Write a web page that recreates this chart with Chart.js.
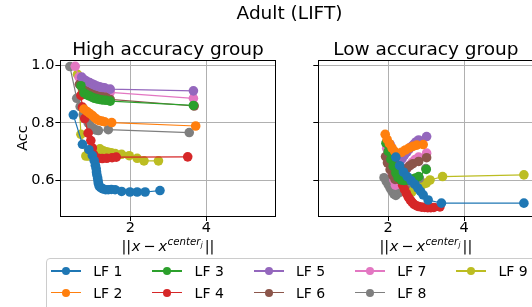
<!DOCTYPE html>
<html>
<head>
<meta charset="utf-8">
<script src="https://cdn.jsdelivr.net/npm/chart.js@4.4.0/dist/chart.umd.min.js"></script>
<style>
html, body { margin: 0; padding: 0; width: 532px; height: 307px; overflow: hidden; background: #fff; font-family: "DejaVu Sans", sans-serif; }
canvas { position: absolute; top: 0; }
#left { left: 0; }
#right { left: 300px; }
#suptitle { position: absolute; left: 189.5px; width: 200px; top: 2.5px; text-align: center; font-size: 18.5px; line-height: 20px; color: #000; }
#legendBox { position: absolute; left: 45.5px; top: 258px; width: 520px; height: 56px; border: 1px solid #cccccc; border-radius: 4px; background: rgba(255,255,255,0.8); }
.lg { position: absolute; }
.lgText { position: absolute; font-size: 14px; line-height: 16px; color: #000; white-space: nowrap; }
</style>
</head>
<body>
<canvas id="left" width="300" height="260"></canvas>
<canvas id="right" width="240" height="260"></canvas>
<div id="suptitle">Adult (LIFT)</div>
<div id="legendBox"></div>
<div id="legendItems"></div>
<script>
const lfLabels = ['LF 1', 'LF 2', 'LF 3', 'LF 4', 'LF 5', 'LF 6', 'LF 7', 'LF 8', 'LF 9'];
const lfColors = ['#1f77b4', '#ff7f0e', '#2ca02c', '#d62728', '#9467bd', '#8c564b', '#e377c2', '#7f7f7f', '#bcbd22'];
const xTicks = [2, 4];
const yTicks = [0.6, 0.8, 1.0];

// High accuracy group: [distance, acc]
const high1 = [[0.50,0.828],[0.74,0.725],[0.91,0.706],[1.00,0.686],[1.05,0.668],[1.08,0.652],[1.10,0.640],[1.11,0.628],[1.12,0.618],[1.14,0.607],[1.15,0.597],[1.16,0.588],[1.18,0.579],[1.22,0.573],[1.28,0.569],[1.35,0.566],[1.42,0.566],[1.50,0.567],[1.60,0.566],[1.77,0.560],[1.99,0.558],[2.18,0.558],[2.39,0.558],[2.78,0.563]];
const high2 = [[0.78,0.848],[0.86,0.840],[0.93,0.833],[1.00,0.826],[1.06,0.818],[1.12,0.812],[1.18,0.808],[1.25,0.806],[1.32,0.804],[1.51,0.801],[3.72,0.789]];
const high3 = [[0.70,0.930],[0.78,0.905],[0.86,0.898],[0.93,0.894],[1.00,0.889],[1.06,0.886],[1.12,0.884],[1.19,0.882],[1.27,0.880],[1.36,0.879],[1.47,0.876],[3.66,0.861]];
const high4 = [[0.70,0.896],[0.74,0.855],[0.80,0.815],[0.89,0.764],[0.96,0.738],[1.00,0.712],[1.03,0.690],[1.08,0.678],[1.16,0.676],[1.26,0.675],[1.38,0.676],[1.52,0.678],[1.63,0.680],[3.51,0.681]];
const high5 = [[0.72,0.960],[0.80,0.950],[0.86,0.945],[0.93,0.941],[1.00,0.936],[1.06,0.932],[1.12,0.929],[1.19,0.926],[1.26,0.924],[1.32,0.923],[1.47,0.918],[3.66,0.912]];
const high6 = [[0.66,0.935],[0.74,0.920],[0.80,0.914],[0.86,0.910],[0.93,0.906],[1.00,0.902],[1.06,0.898],[1.12,0.895],[1.19,0.893],[1.27,0.892],[1.36,0.890],[1.47,0.882],[3.68,0.859]];
const high7 = [[0.55,0.998],[0.65,0.960],[0.74,0.950],[0.80,0.944],[0.86,0.938],[0.93,0.932],[1.00,0.928],[1.06,0.924],[1.12,0.921],[1.19,0.918],[1.27,0.916],[1.36,0.914],[1.47,0.907],[3.66,0.886]];
const high8 = [[0.41,0.997],[0.59,0.886],[0.68,0.857],[0.76,0.828],[0.82,0.815],[0.89,0.800],[0.96,0.788],[1.03,0.780],[1.10,0.775],[1.16,0.773],[1.42,0.776],[3.55,0.766]];
const high9 = [[0.61,0.970],[0.70,0.760],[0.83,0.684],[0.90,0.684],[0.98,0.690],[1.05,0.696],[1.12,0.702],[1.20,0.709],[1.29,0.702],[1.36,0.699],[1.42,0.697],[1.50,0.695],[1.60,0.693],[1.77,0.690],[1.97,0.685],[2.18,0.676],[2.36,0.667],[2.74,0.667]];

// Low accuracy group
const low1 = [[2.20,0.680],[2.30,0.650],[2.40,0.628],[2.50,0.612],[2.60,0.598],[2.70,0.585],[2.78,0.572],[2.85,0.560],[2.92,0.548],[3.05,0.530],[3.40,0.519],[5.57,0.519]];
const low2 = [[1.92,0.760],[1.97,0.742],[2.03,0.727],[2.10,0.712],[2.17,0.700],[2.25,0.692],[2.35,0.697],[2.45,0.705],[2.55,0.712],[2.65,0.718],[2.75,0.722],[2.92,0.724]];
const low3 = [[1.94,0.729],[2.00,0.700],[2.07,0.672],[2.13,0.648],[2.20,0.625],[2.26,0.608],[2.34,0.600],[2.42,0.598],[2.52,0.600],[2.62,0.603],[2.72,0.607],[2.80,0.612],[3.00,0.637]];
const low4 = [[2.02,0.720],[2.07,0.700],[2.12,0.680],[2.17,0.660],[2.22,0.638],[2.27,0.618],[2.32,0.600],[2.38,0.582],[2.43,0.566],[2.48,0.552],[2.53,0.540],[2.58,0.530],[2.63,0.522],[2.68,0.515],[2.74,0.510],[2.80,0.507],[2.88,0.505],[2.96,0.504],[3.04,0.503],[3.12,0.503],[3.20,0.504],[3.36,0.506]];
const low5 = [[2.05,0.725],[2.10,0.705],[2.15,0.682],[2.20,0.662],[2.25,0.652],[2.31,0.664],[2.37,0.676],[2.43,0.688],[2.49,0.698],[2.55,0.708],[2.61,0.717],[2.67,0.725],[2.73,0.733],[2.80,0.740],[3.01,0.752]];
const low6 = [[1.93,0.682],[1.98,0.660],[2.05,0.636],[2.12,0.616],[2.18,0.602],[2.25,0.606],[2.33,0.618],[2.41,0.630],[2.49,0.641],[2.57,0.650],[2.65,0.657],[2.80,0.665],[3.01,0.678]];
const low7 = [[1.96,0.711],[2.00,0.682],[2.05,0.652],[2.10,0.625],[2.15,0.600],[2.19,0.582],[2.25,0.590],[2.31,0.603],[2.37,0.616],[2.43,0.628],[2.49,0.640],[2.56,0.651],[2.63,0.662],[2.71,0.672],[2.80,0.680],[3.01,0.694]];
const low8 = [[1.89,0.608],[1.95,0.595],[2.00,0.584],[2.05,0.572],[2.10,0.561],[2.15,0.551],[2.20,0.546],[2.27,0.555],[2.34,0.566],[2.41,0.576],[2.48,0.585],[2.55,0.592],[2.63,0.598],[2.72,0.602],[2.82,0.606],[2.99,0.640]];
const low9 = [[2.47,0.577],[2.55,0.560],[2.62,0.558],[2.68,0.568],[2.74,0.576],[2.82,0.580],[2.90,0.584],[3.00,0.589],[3.10,0.600],[3.43,0.612],[5.57,0.618]];

const FONT = '"DejaVu Sans"';

function drawMathLabel(ctx, cx, base) {
  // ||x - x^{center_j}||
  const runs = [
    ['||', '14.5px ' + FONT, 0, 0],
    ['x', 'italic 14.5px ' + FONT, 0, 0.5],
    ['\u2212', '14.5px ' + FONT, 0, 3],
    ['x', 'italic 14.5px ' + FONT, 0, 3],
    ['center', 'italic 10.2px ' + FONT, -5.7, 0.5],
    ['j', 'italic 7.2px ' + FONT, -3.3, 0.3],
    ['||', '14.5px ' + FONT, 0, 2]
  ];
  let total = 0;
  const widths = runs.map(r => {
    ctx.font = r[1];
    const w = ctx.measureText(r[0]).width;
    total += w + r[3];
    return w;
  });
  let x = cx - total / 2;
  ctx.textAlign = 'left';
  ctx.textBaseline = 'alphabetic';
  runs.forEach((r, i) => {
    x += r[3];
    ctx.font = r[1];
    ctx.fillText(r[0], x, base + r[2]);
    x += widths[i];
  });
}

const panelDecor = {
  id: 'panelDecor',
  afterDraw(chart, args, opts) {
    const ctx = chart.ctx;
    const a = chart.chartArea;
    const xs = chart.scales.x;
    ctx.save();
    ctx.strokeStyle = '#000';
    ctx.lineWidth = 1;
    ctx.strokeRect(Math.round(a.left) + 0.5, Math.round(a.top) + 0.5, Math.round(a.right - a.left), Math.round(a.bottom - a.top));
    ctx.fillStyle = '#000';
    // x tick labels placed from the x scale
    ctx.font = '14.5px ' + FONT;
    ctx.textAlign = 'center';
    ctx.textBaseline = 'alphabetic';
    xTicks.forEach(v => ctx.fillText(String(v), xs.getPixelForValue(v), a.bottom + 16));
    ctx.font = '18.5px ' + FONT;
    ctx.fillText(opts.title, (a.left + a.right) / 2, a.top - 5);
    if (opts.ylabel) {
      ctx.save();
      ctx.translate(26.5, (a.top + a.bottom) / 2);
      ctx.rotate(-Math.PI / 2);
      ctx.font = '14.5px ' + FONT;
      ctx.fillText(opts.ylabel, 0, 0);
      ctx.restore();
    }
    drawMathLabel(ctx, (a.left + a.right) / 2, 250.5);
    ctx.restore();
  }
};

function makePanel(id, series, cfg) {
  return new Chart(document.getElementById(id), {
    type: 'scatter',
    data: {
      datasets: series.map((pts, i) => ({
        label: lfLabels[i],
        data: pts.map(p => ({ x: p[0], y: p[1] })),
        showLine: true,
        borderColor: lfColors[i],
        backgroundColor: lfColors[i],
        pointBackgroundColor: lfColors[i],
        pointBorderColor: lfColors[i],
        borderWidth: 1.2,
        pointRadius: 4.8,
        pointHoverRadius: 4.8,
        pointBorderWidth: 0
      }))
    },
    options: {
      responsive: false,
      animation: false,
      events: [],
      layout: { padding: cfg.padding },
      plugins: {
        legend: { display: false },
        tooltip: { enabled: false },
        panelDecor: { title: cfg.title, ylabel: cfg.ylabel }
      },
      scales: {
        x: {
          type: 'linear',
          min: 0.16,
          max: 5.82,
          afterFit: s => { s.height = 44; },
          afterBuildTicks: s => { s.ticks = xTicks.map(v => ({ value: v })); },
          grid: { color: '#b0b0b0', lineWidth: 1, tickColor: '#000', tickLength: 5 },
          border: { display: false },
          ticks: { display: false }
        },
        y: {
          type: 'linear',
          min: 0.474,
          max: 1.020,
          afterFit: s => { s.width = cfg.yw; },
          afterBuildTicks: s => { s.ticks = yTicks.map(v => ({ value: v })); },
          grid: { color: '#b0b0b0', lineWidth: 1, tickColor: '#000', tickLength: 5 },
          border: { display: false },
          ticks: { color: '#000', padding: 1, font: { family: 'DejaVu Sans', size: 14.5 }, callback: v => cfg.ylabel ? v.toFixed(1) : '' }
        }
      }
    },
    plugins: [panelDecor]
  });
}

makePanel('left', [high1, high2, high3, high4, high5, high6, high7, high8, high9], {
  title: 'High accuracy group', ylabel: 'Acc', yw: 60.4,
  padding: { left: 0, right: 24.5, top: 60, bottom: 0 }
});
makePanel('right', [low1, low2, low3, low4, low5, low6, low7, low8, low9], {
  title: 'Low accuracy group', ylabel: '', yw: 18.3,
  padding: { left: 0, right: 6.6, top: 60, bottom: 0 }
});

// legend: two rows, filled column by column
const legendItems = document.getElementById('legendItems');
lfLabels.forEach((lab, i) => {
  const col = Math.floor(i / 2), row = i % 2;
  const x0 = 51 + col * 101.3;
  const yc = row === 0 ? 271 : 292.5;
  const line = document.createElement('div');
  line.className = 'lg';
  line.style.cssText = `left:${x0}px;top:${yc - 0.6}px;width:30px;height:1.2px;background:${lfColors[i]};`;
  const dot = document.createElement('div');
  dot.className = 'lg';
  dot.style.cssText = `left:${x0 + 15 - 4}px;top:${yc - 4}px;width:8px;height:8px;border-radius:50%;background:${lfColors[i]};`;
  const txt = document.createElement('div');
  txt.className = 'lgText';
  txt.style.left = (x0 + 42.3) + 'px';
  txt.style.top = (yc - 8) + 'px';
  txt.textContent = lab;
  legendItems.append(line, dot, txt);
});
</script>
</body>
</html>
